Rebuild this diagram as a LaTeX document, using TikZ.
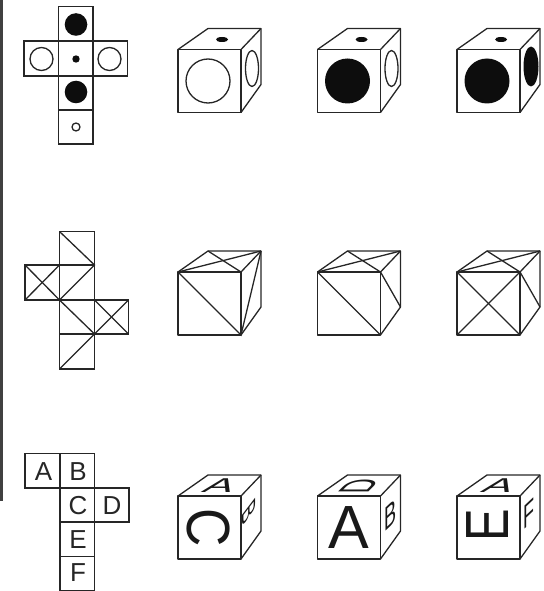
\documentclass[tikz,border=0pt]{standalone}
\usepackage{fontspec}
\setmainfont{Liberation Sans}
\tikzset{
  line/.style={draw=black!85, line width=1.3pt},
  dot/.style={fill=black!95, draw=none},
  ring/.style={draw=black!85, line width=1.3pt},
  letter/.style={inner sep=0pt, black!85, font=\fontsize{26}{26}\selectfont},
  bigletter/.style={inner sep=0pt, black!90, font=\fontsize{61}{61}\selectfont},
  topletter/.style={inner sep=0pt, black!90, font=\fontsize{20}{20}\selectfont},
  cubeframe/.pic={
    \draw[line, line join=round] (0,0) rectangle (63,63);
    \draw[line, line join=round] (0,0) -- (30,-21) -- (83,-21) -- (83,35) -- (63,63);
    \draw[line] (63,0) -- (83,-21);
  },
}
\begin{document}
\begin{tikzpicture}[x=1pt, y=-1pt]
    \useasboundingbox (0,0) rectangle (543,591);
    \fill[black!75] (0,0) rectangle (3,501);

    % dots net
    \draw[line] (58.5,6.5) rectangle (93,41);
    \draw[line] (24,41) rectangle (58.5,76);
    \draw[line] (58.5,41) rectangle (93,76);
    \draw[line] (93,41) rectangle (127.5,76);
    \draw[line] (58.5,76) rectangle (93,110);
    \draw[line] (58.5,110) rectangle (93,144);
    \fill[dot] (76,24.5) circle (11.3);
    \fill[dot] (76,92) circle (11.3);
    \fill[dot] (76,59) circle (3.7);
    \draw[ring] (41.5,59) circle (11.5);
    \draw[ring] (109.5,59) circle (11.5);
    \draw[ring] (76,127) circle (4);

    % dots cubes
    \begin{scope}[shift={(178,49.5)}]
        \pic {cubeframe};
        \fill[dot] (44,-10) ellipse (6 and 2.5);
        \draw[ring] (30,31.5) circle (22);
        \draw[ring] (74,19) ellipse (6.5 and 18);
    \end{scope}
    \begin{scope}[shift={(317.5,49.5)}]
        \pic {cubeframe};
        \fill[dot] (44,-10) ellipse (6 and 2.5);
        \fill[dot] (30,31.5) circle (22.5);
        \draw[ring] (74,19) ellipse (6.5 and 18);
    \end{scope}
    \begin{scope}[shift={(457,49.5)}]
        \pic {cubeframe};
        \fill[dot] (44,-10) ellipse (6 and 2.5);
        \fill[dot] (30,31.5) circle (22.5);
        \fill[dot] (74,17) ellipse (7.5 and 20);
    \end{scope}

    % lines net
    \draw[line] (59.5,231.5) rectangle (94.5,265);
    \draw[line] (59.5,265) rectangle (94.5,300);
    \draw[line] (59.5,300) rectangle (94.5,334);
    \draw[line] (59.5,334) rectangle (94.5,369);
    \draw[line] (25,265) rectangle (59.5,300);
    \draw[line] (94.5,300) rectangle (128.5,334);
    \draw[line] (59.5,231.5) -- (94.5,265) -- (59.5,300) -- (94.5,334) -- (59.5,369);
    \draw[line] (25,265) -- (59.5,300);
    \draw[line] (25,300) -- (59.5,265);
    \draw[line] (94.5,300) -- (128.5,334);
    \draw[line] (94.5,334) -- (128.5,300);

    % lines cubes
    \begin{scope}[shift={(178,272)}]
        \pic {cubeframe};
        \draw[line] (0,0) -- (83,-21);
        \draw[line] (30,-21) -- (63,0);
        \draw[line] (0,0) -- (63,63) -- (83,-21);
    \end{scope}
    \begin{scope}[shift={(317.5,272)}]
        \pic {cubeframe};
        \draw[line] (0,0) -- (83,-21);
        \draw[line] (30,-21) -- (63,0) -- (83,35);
        \draw[line] (0,0) -- (63,63);
    \end{scope}
    \begin{scope}[shift={(457,272)}]
        \pic {cubeframe};
        \draw[line] (0,0) -- (83,-21);
        \draw[line] (30,-21) -- (63,0) -- (83,35);
        \draw[line] (0,0) -- (63,63);
        \draw[line] (0,63) -- (63,0);
    \end{scope}

    % letters net
    \draw[line] (25,453.5) rectangle (60,488);
    \draw[line] (60,453.5) rectangle (94.5,488);
    \draw[line] (60,488) rectangle (94.5,522);
    \draw[line] (94.5,488) rectangle (129,522);
    \draw[line] (60,522) rectangle (94.5,556.5);
    \draw[line] (60,556.5) rectangle (94.5,590.5);
    \node[letter] (netA) at (43.5,471.5) {A};
    \node[letter] (netB) at (78,471.5) {B};
    \node[letter] (netC) at (78,505.5) {C};
    \node[letter] (netD) at (112,505.5) {D};
    \node[letter] (netE) at (78,539.5) {E};
    \node[letter] (netF) at (78,573) {F};

    % letters cubes
    \begin{scope}[shift={(178,496)}]
        \pic {cubeframe};
        \node[bigletter, cm={0,-0.87,1,0,(0,0)}] (frontC) at (30.5,32) {C};
        \node[topletter, cm={2.2,0,0.75,1,(0,0)}] (topA) at (42.5,-10) {A};
        \node[topletter, cm={0,-1.1,0.95,1.25,(0,0)}] (sideB) at (71.5,16) {B};
    \end{scope}
    \begin{scope}[shift={(317.5,496)}]
        \pic {cubeframe};
        \node[bigletter] (frontA) at (31,32) {A};
        \node[topletter, cm={1,1,-2.2,0,(0,0)}] (topD) at (41.5,-9.5) {D};
        \node[topletter, cm={0.9,0.85,0,1.68,(0,0)}] (sideBb) at (73,19.5) {B};
    \end{scope}
    \begin{scope}[shift={(457,496)}]
        \pic {cubeframe};
        \node[bigletter, cm={0,0.8,-1,0,(0,0)}] (frontE) at (31,29) {E};
        \node[topletter, cm={2.2,0,0.75,1,(0,0)}] (topAa) at (42.5,-10) {A};
        \node[topletter, cm={0.9,0.85,0,1.68,(0,0)}] (sideF) at (71.5,18) {F};
    \end{scope}
\end{tikzpicture}
\end{document}
